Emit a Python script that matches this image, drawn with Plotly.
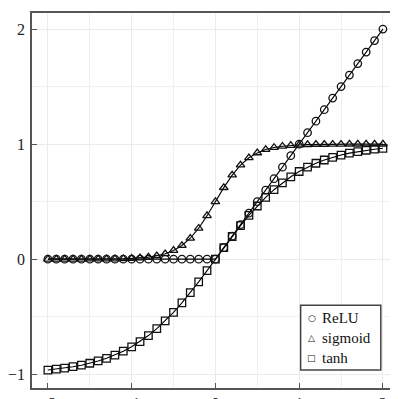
import plotly.graph_objects as go

x_vals = [-2.0, -1.9, -1.8, -1.7, -1.6, -1.5, -1.4, -1.3, -1.2, -1.1, -1.0,
          -0.9, -0.8, -0.7, -0.6, -0.5, -0.4, -0.3, -0.2, -0.1, 0.0,
          0.1, 0.2, 0.3, 0.4, 0.5, 0.6, 0.7, 0.8, 0.9, 1.0,
          1.1, 1.2, 1.3, 1.4, 1.5, 1.6, 1.7, 1.8, 1.9, 2.0]

relu_vals = [0.0, 0.0, 0.0, 0.0, 0.0, 0.0, 0.0, 0.0, 0.0, 0.0, 0.0,
             0.0, 0.0, 0.0, 0.0, 0.0, 0.0, 0.0, 0.0, 0.0, 0.0,
             0.1, 0.2, 0.3, 0.4, 0.5, 0.6, 0.7, 0.8, 0.9, 1.0,
             1.1, 1.2, 1.3, 1.4, 1.5, 1.6, 1.7, 1.8, 1.9, 2.0]

sigmoid_vals = [0.000, 0.000, 0.000, 0.000, 0.000, 0.001, 0.001, 0.002, 0.002, 0.004, 0.007,
                0.011, 0.018, 0.029, 0.047, 0.076, 0.119, 0.182, 0.269, 0.378, 0.500,
                0.622, 0.731, 0.818, 0.881, 0.924, 0.953, 0.971, 0.982, 0.989, 0.993,
                0.996, 0.998, 0.998, 0.999, 0.999, 1.000, 1.000, 1.000, 1.000, 1.000]

tanh_vals = [-0.964, -0.956, -0.947, -0.935, -0.922, -0.905, -0.885, -0.862, -0.834, -0.800, -0.762,
             -0.716, -0.664, -0.604, -0.537, -0.462, -0.380, -0.291, -0.197, -0.100, 0.000,
             0.100, 0.197, 0.291, 0.380, 0.462, 0.537, 0.604, 0.664, 0.716, 0.762,
             0.800, 0.834, 0.862, 0.885, 0.905, 0.922, 0.935, 0.947, 0.956, 0.964]

series_names = ["ReLU", "sigmoid", "tanh"]
series_vals = [relu_vals, sigmoid_vals, tanh_vals]
series_symbols = ["circle-open", "triangle-up-open", "square-open"]
legend_glyphs = ["○", "△", "□"]

FONT = "Liberation Serif, Times New Roman, serif"

fig = go.Figure()
for vals in series_vals:
    fig.add_trace(go.Scatter(x=x_vals, y=vals, mode="lines", showlegend=False,
                             line=dict(color="black", width=1.1), hoverinfo="skip"))
for name, vals, sym in zip(series_names, series_vals, series_symbols):
    fig.add_trace(go.Scatter(x=x_vals, y=vals, mode="markers", name=name, showlegend=False,
                             marker=dict(symbol=sym, size=7.5, color="#111",
                                         line=dict(color="#111", width=1.3))))

axis_common = dict(
    showline=True, linecolor="#555", linewidth=1.5,
    ticks="inside", ticklen=5, tickwidth=1.2, tickcolor="#555",
    showgrid=True, gridcolor="#ebebeb", gridwidth=1,
    zeroline=False, dtick=1, tick0=0, automargin=False,
    minor=dict(dtick=0.5, showgrid=True, gridcolor="#f0f0f0", gridwidth=1, ticks=""),
    tickfont=dict(family=FONT, size=16, color="#222"),
)

# manual compact legend (box + labels)
box_x0, box_x1, box_y0, box_y1 = 0.734, 0.953, 0.048, 0.221
row_y = [0.187, 0.134, 0.081]
shapes = [dict(type="rect", xref="paper", yref="paper", x0=box_x0, x1=box_x1,
               y0=box_y0, y1=box_y1, line=dict(color="#444", width=1.5),
               fillcolor="white", layer="above")]
annotations = []
for name, glyph, yy in zip(series_names, legend_glyphs, row_y):
    annotations.append(dict(xref="paper", yref="paper", x=0.765, y=yy, text="<b>" + glyph + "</b>",
                            showarrow=False, xanchor="center", yanchor="middle",
                            font=dict(family="DejaVu Sans", size=9, color="#111")))
    annotations.append(dict(xref="paper", yref="paper", x=0.787, y=yy, text=name,
                            showarrow=False, xanchor="left", yanchor="middle",
                            font=dict(family=FONT, size=15, color="#111")))

# page body has an 8px margin; figure size/margins compensate for it
fig.update_layout(
    width=390, height=391,
    margin=dict(l=24, r=0, t=5, b=11, autoexpand=False),
    paper_bgcolor="white", plot_bgcolor="white",
    xaxis=dict(range=[-2.19, 2.18], mirror=True, ticklabelstandoff=0, **axis_common),
    yaxis=dict(range=[-1.12, 2.14], ticklabelstandoff=2, **axis_common),
    showlegend=False,
    shapes=shapes,
    annotations=annotations,
    font=dict(family=FONT),
)

fig.write_html("out.html")
